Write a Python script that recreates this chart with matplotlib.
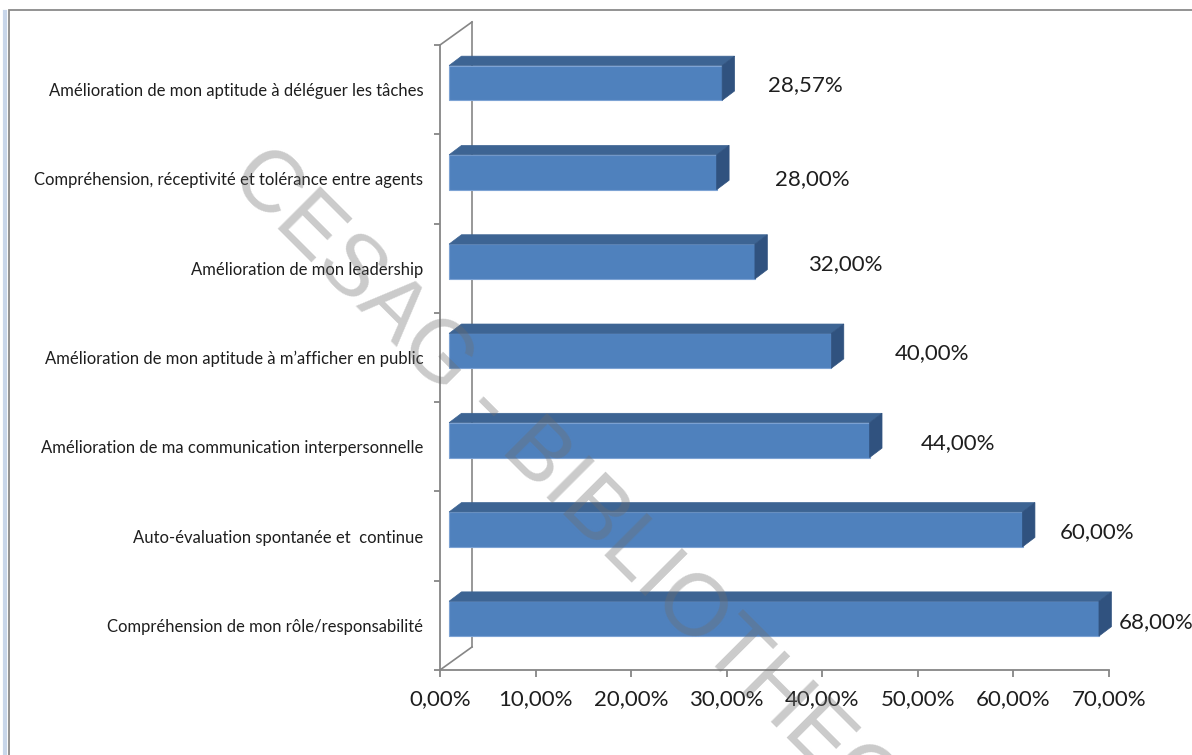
import numpy as np
import matplotlib
matplotlib.use("Agg")
import matplotlib.pyplot as plt
from matplotlib.patches import Polygon, Rectangle
from matplotlib.lines import Line2D

# data, listed top to bottom as in the chart
CATEGORIES = [
    "Amélioration de mon aptitude à déléguer les tâches",
    "Compréhension, réceptivité et tolérance entre agents",
    "Amélioration de mon leadership",
    "Amélioration de mon aptitude à m\u2019afficher en public",
    "Amélioration de ma communication interpersonnelle",
    "Auto-évaluation spontanée et  continue",
    "Compréhension de mon rôle/responsabilité",
]
VALUES = [28.57, 28.00, 32.00, 40.00, 44.00, 60.00, 68.00]
XTICKS = [0, 10, 20, 30, 40, 50, 60, 70]
WATERMARK = "CESAG - BIBLIOTHEQUE"

FRONT = "#4F81BD"
TOP = "#3D6493"
SIDE = "#30527F"
EDGE = "#7DA3D4"
AXIS = "#868686"
TEXT = "#1e1e1e"
FONT = "Lato"

# fake 3D geometry (data units)
BAR_H = 0.39
BAR_X0, BAR_Y0 = 0.95, 0.075      # front face sits a bit behind the front plane
DEPTH_X, DEPTH_Y = 1.3, 0.105     # bar depth
WALL_X, WALL_Y = 3.35, 0.258      # box depth

# value label nudges, points (from end of bar front / category centre)
LABEL_DX = [33, 42, 38, 46, 37, 27, 14]
LABEL_DY = [3, 0, 3, 3, 3, 3, 2]


def fmt(v):
    return f"{v:.2f}%".replace(".", ",")


fig = plt.figure(figsize=(11.92, 7.55), dpi=100)
ax = fig.add_axes([440 / 1192, 85 / 755, 669 / 1192, 625 / 755])
ax.set_xlim(0, 70)
ax.set_ylim(-0.5, 6.5)

n = len(CATEGORIES)
pos = np.arange(n)[::-1]

# back wall of the box
ax.plot([0, WALL_X], [-0.5, -0.5 + WALL_Y], color=AXIS, lw=1.2, clip_on=False, zorder=1)
ax.plot([WALL_X, WALL_X], [-0.5 + WALL_Y, 6.5 + WALL_Y], color=AXIS, lw=1.2, clip_on=False, zorder=1)
ax.plot([0, WALL_X], [6.5, 6.5 + WALL_Y], color=AXIS, lw=1.2, clip_on=False, zorder=1)

# bars: front face + top + side
y0 = pos + BAR_Y0 - BAR_H / 2
ax.barh(pos + BAR_Y0, VALUES, left=BAR_X0, height=BAR_H, color=FRONT,
        edgecolor=EDGE, linewidth=0.8, clip_on=False, zorder=3)
for yb, v in zip(y0, VALUES):
    x1 = BAR_X0 + v
    yt = yb + BAR_H
    top = Polygon([(BAR_X0, yt), (BAR_X0 + DEPTH_X, yt + DEPTH_Y),
                   (x1 + DEPTH_X, yt + DEPTH_Y), (x1, yt)],
                  closed=True, fc=TOP, ec=TOP, lw=0.5, clip_on=False, zorder=3)
    side = Polygon([(x1, yb), (x1, yt), (x1 + DEPTH_X, yt + DEPTH_Y),
                    (x1 + DEPTH_X, yb + DEPTH_Y)],
                   closed=True, fc=SIDE, ec=SIDE, lw=0.5, clip_on=False, zorder=3)
    ax.add_patch(top)
    ax.add_patch(side)

for p, v, dx, dy in zip(pos, VALUES, LABEL_DX, LABEL_DY):
    ax.annotate(fmt(v), xy=(BAR_X0 + v, p), xytext=(dx, dy), textcoords="offset points",
                ha="left", va="center", fontsize=16, color=TEXT, family=FONT,
                annotation_clip=False, zorder=5)

# axes styling
for s in ["top", "right"]:
    ax.spines[s].set_visible(False)
for s in ["left", "bottom"]:
    ax.spines[s].set_color(AXIS)
    ax.spines[s].set_linewidth(1.3)
    ax.spines[s].set_zorder(2)

ax.set_xticks(XTICKS)
ax.set_xticklabels([fmt(t) for t in XTICKS], fontsize=16, color=TEXT, family=FONT)
ax.tick_params(axis="x", direction="out", length=5, width=1.3, color=AXIS, pad=9)

ax.set_yticks(np.arange(-0.5, n, 1.0))
ax.set_yticklabels([])
ax.tick_params(axis="y", which="major", direction="out", length=4, width=1.3, color=AXIS)
ax.set_yticks(pos, minor=True)
ax.set_yticklabels(CATEGORIES, minor=True, fontsize=12, color=TEXT, family=FONT)
ax.tick_params(axis="y", which="minor", length=0, pad=12)

# chart-area border and its faint shadow
fig.add_artist(Line2D([5 / 1192, 5 / 1192], [0, 1 - 12 / 755], transform=fig.transFigure,
                      color="#c8d6ea", lw=3))
fig.add_artist(Rectangle((9 / 1192, -0.1), 1.2, 1 - 10 / 755 + 0.1, transform=fig.transFigure,
                         fill=False, ec="#8a8a8a", lw=1.3))

# watermark
fig.text(243 / 1192, 1 - 163 / 755, WATERMARK, rotation=-45, rotation_mode="anchor",
         ha="left", va="center", fontsize=63, family="Liberation Sans",
         color="#6e6e6e", alpha=0.36, zorder=10)

fig.savefig("out.png", dpi=100)
